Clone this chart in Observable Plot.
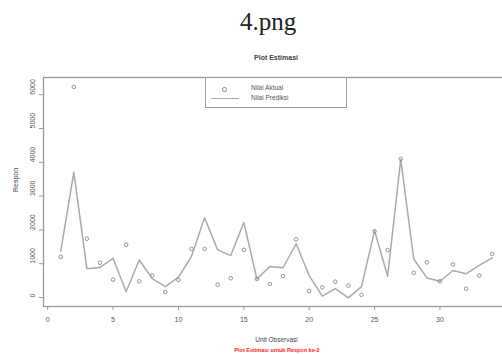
<!DOCTYPE html>
<html>
<head>
<meta charset="utf-8">
<script src="https://cdn.jsdelivr.net/npm/d3@7"></script>
<script src="https://cdn.jsdelivr.net/npm/@observablehq/plot@0.6"></script>
<style>
  html, body { margin: 0; padding: 0; background: #fff; }
  #wrap { position: relative; width: 502px; height: 354px; overflow: hidden; background: #fff; font-family: "Liberation Sans", Arial, sans-serif; }
  #chart { position: absolute; left: 0; top: 0; width: 530px; height: 354px; }
  #chart svg { max-width: none !important; }
  .abs { position: absolute; white-space: nowrap; }
  #doctitle { left: 168px; width: 200px; top: 9px; text-align: center; font-family: "Liberation Serif", "DejaVu Serif", serif; font-size: 25px; line-height: 25px; color: #222; }
  #ptitle { left: 226px; width: 100px; top: 54px; text-align: center; font-size: 7px; line-height: 8px; font-weight: bold; color: #444; }
  #legend { left: 205px; top: 77px; width: 142px; height: 31px; border: 1.3px solid #999; box-sizing: border-box; background: #fff; }
  .lgtext { position: absolute; left: 45px; font-size: 6.5px; line-height: 8px; color: #555; }
  #lgdot { position: absolute; left: 16px; top: 9px; width: 2.5px; height: 2.5px; border: 0.8px solid #888; border-radius: 50%; }
  #lgline { position: absolute; left: 5px; top: 20px; width: 28px; border-top: 1.4px solid #aaa; }
  #caption { left: 177px; width: 200px; top: 347px; text-align: center; font-size: 5.5px; line-height: 7px; font-weight: bold; color: #f22; }
</style>
</head>
<body>
<div id="wrap">
  <div id="chart"></div>
  <div id="doctitle" class="abs">4.png</div>
  <div id="ptitle" class="abs">Plot Estimasi</div>
  <div id="legend" class="abs">
    <span id="lgdot"></span>
    <span id="lgline"></span>
    <span class="lgtext" style="top:6px">Nilai Aktual</span>
    <span class="lgtext" style="top:16px">Nilai Prediksi</span>
  </div>
  <div id="caption" class="abs">Plot Estimasi untuk Respon ke-2</div>
</div>
<script>
const obs = [1, 2, 3, 4, 5, 6, 7, 8, 9, 10, 11, 12, 13, 14, 15, 16, 17, 18, 19, 20, 21, 22, 23, 24, 25, 26, 27, 28, 29, 30, 31, 32, 33, 34];
const actual = [1200, 6230, 1740, 1030, 530, 1560, 480, 650, 160, 520, 1440, 1440, 380, 570, 1410, 550, 400, 630, 1720, 190, 300, 470, 350, 80, 1960, 1400, 4100, 730, 1040, 480, 980, 260, 650, 1290];
const predicted = [1370, 3710, 850, 890, 1160, 170, 1110, 560, 320, 600, 1220, 2360, 1410, 1240, 2220, 550, 920, 880, 1590, 650, 40, 260, -10, 320, 1980, 630, 4080, 1140, 580, 480, 800, 700, 950, 1170];
const xTicks = [0, 5, 10, 15, 20, 25, 30];
const yTicks = [0, 1000, 2000, 3000, 4000, 5000, 6000];

const rows = obs.map((o, i) => ({obs: o, actual: actual[i], predicted: predicted[i]}));

const chart = Plot.plot({
  width: 530,
  height: 354,
  marginTop: 77,
  marginBottom: 48,
  marginLeft: 43,
  marginRight: 21,
  x: {domain: [-0.32, 35.32]},
  y: {domain: [-266, 6509]},
  style: {background: "transparent", fontFamily: "Liberation Sans, Arial, sans-serif", fontSize: "7px", color: "#444"},
  marks: [
    Plot.frame({stroke: "#999", strokeWidth: 1.3}),
    Plot.axisX({ticks: xTicks, tickSize: 4, tickPadding: 7, label: null, stroke: "#999", fill: "#555", fontSize: 7}),
    Plot.axisY({ticks: yTicks, tickSize: 4, tickFormat: () => "", label: null, stroke: "#999"}),
    Plot.text(yTicks, {y: d => d, text: d => String(d), frameAnchor: "left", dx: -11, rotate: -90, fontSize: 7, fill: "#555"}),
    Plot.text(["Respon"], {frameAnchor: "left", dx: -28, rotate: -90, fontSize: 7, fill: "#444"}),
    Plot.text(["Unit Observasi"], {frameAnchor: "bottom", dy: 35, fontSize: 6.5, fill: "#444"}),
    Plot.line(rows, {x: "obs", y: "predicted", stroke: "#aaa", strokeWidth: 1.5}),
    Plot.dot(rows, {x: "obs", y: "actual", r: 1.8, stroke: "#888", strokeWidth: 0.9})
  ]
});
chart.style.maxWidth = "none";
document.getElementById("chart").appendChild(chart);
</script>
</body>
</html>
